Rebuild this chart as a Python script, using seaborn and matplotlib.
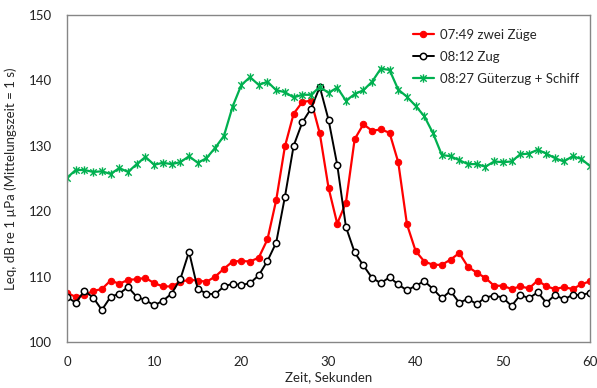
import numpy as np
import pandas as pd
import matplotlib
matplotlib.use("Agg")
import matplotlib.pyplot as plt
from matplotlib.path import Path
import seaborn as sns

zeit = list(range(0, 61))

zwei_zuege = [107.5, 106.9, 107.2, 107.8, 108.1, 109.4, 108.9, 109.5, 109.6, 109.8,
              109.0, 108.5, 108.5, 109.2, 109.5, 109.4, 109.2, 110.0, 111.2, 112.3,
              112.4, 112.3, 112.9, 115.7, 121.7, 129.9, 134.9, 136.7, 136.9, 131.9,
              123.6, 118.1, 121.3, 131.0, 133.3, 132.3, 132.5, 132.0, 127.5, 118.0,
              113.9, 112.3, 111.8, 111.8, 112.6, 113.6, 111.5, 110.6, 109.8, 108.6,
              108.6, 108.1, 108.5, 108.2, 109.4, 108.5, 108.1, 108.4, 108.1, 108.8,
              109.3]

zug = [106.9, 106.0, 107.8, 106.8, 104.9, 106.9, 107.4, 108.4, 106.9, 106.4,
       105.6, 106.3, 107.4, 109.6, 113.8, 108.1, 107.4, 107.3, 108.5, 108.9,
       108.7, 109.0, 110.2, 112.4, 115.2, 122.2, 130.0, 133.6, 135.7, 139.0,
       134.0, 127.1, 117.6, 113.7, 111.7, 109.8, 109.0, 109.9, 108.8, 107.9,
       108.6, 109.3, 108.1, 106.7, 107.8, 106.0, 106.6, 105.8, 106.8, 107.1,
       106.8, 105.5, 107.2, 106.7, 107.6, 106.0, 107.2, 106.5, 107.2, 107.2,
       107.5]

gueterzug = [125.1, 126.3, 126.3, 126.0, 126.1, 125.7, 126.6, 126.0, 127.2, 128.3,
             127.1, 127.4, 127.2, 127.5, 128.4, 127.4, 128.1, 129.7, 131.5, 136.0,
             139.3, 140.5, 139.3, 139.8, 138.5, 138.2, 137.4, 137.8, 137.8, 139.0,
             138.1, 138.9, 136.9, 137.9, 138.5, 139.8, 141.8, 141.6, 138.6, 137.5,
             136.1, 134.5, 131.9, 128.6, 128.4, 127.8, 127.2, 127.2, 126.8, 127.6,
             127.5, 127.6, 128.7, 128.8, 129.4, 128.8, 128.1, 127.6, 128.4, 128.0,
             126.9]

labels = ["07:49 zwei Züge", "08:12 Zug", "08:27 Güterzug + Schiff"]

sns.set_theme(style="white")
plt.rcParams['font.family'] = ['Lato', 'DejaVu Sans']

fig = plt.figure(figsize=(5.97, 3.88), dpi=100)
ax = fig.add_axes([67/597, 1 - 342/388, (590-67)/597, (342-15)/388])

star = Path([(-1, -1), (1, 1), (-1, 1), (1, -1), (0, -1.3), (0, 1.3)],
            [Path.MOVETO, Path.LINETO, Path.MOVETO, Path.LINETO, Path.MOVETO, Path.LINETO])

sns.lineplot(x=zeit, y=zwei_zuege, ax=ax, color="#FF0000", lw=1.6, marker="o",
             markersize=4.6, markeredgecolor="#FF0000", markerfacecolor="#FF0000",
             label=labels[0])
sns.lineplot(x=zeit, y=zug, ax=ax, color="black", lw=1.4, marker="o",
             markersize=4.6, markeredgecolor="black", markerfacecolor="white",
             markeredgewidth=1.1, label=labels[1])
sns.lineplot(x=zeit, y=gueterzug, ax=ax, color="#00B050", lw=1.6, marker=star,
             markersize=6, markeredgecolor="#00B050", markeredgewidth=1.0,
             label=labels[2])

ax.set_xlim(0, 60)
ax.set_ylim(100, 150)
ax.set_xticks(range(0, 61, 10))
ax.set_yticks(range(100, 151, 10))
ax.tick_params(axis="both", direction="in", length=4, width=0.8, color="#868686",
               labelsize=9.5, labelcolor="#222222")
ax.tick_params(axis="y", pad=11)
ax.tick_params(axis="x", pad=10)
for s in ax.spines.values():
    s.set_color("#868686")
    s.set_linewidth(1.0)

ax.set_xlabel("Zeit, Sekunden", fontsize=9.5, labelpad=2)
ax.set_ylabel("Leq, dB re 1 µPa (Mittelungszeit = 1 s)", fontsize=9.5, labelpad=8)

leg = ax.legend(loc="upper right", frameon=False, fontsize=9.5, handlelength=1.6,
                handletextpad=0.5, labelspacing=0.75, borderaxespad=0.4,
                bbox_to_anchor=(1.0, 0.99))

fig.savefig("out.png", dpi=100)
